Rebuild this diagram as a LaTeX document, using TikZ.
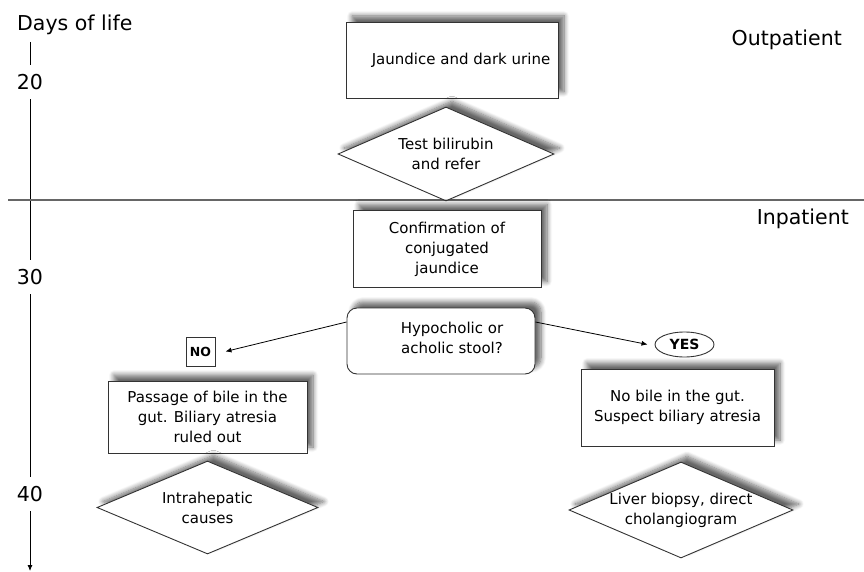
\documentclass[tikz,border=0pt]{standalone}
\usepackage{fontspec}
\setmainfont{DejaVu Sans}
\usetikzlibrary{shapes.geometric,arrows.meta,shadows.blur}
\begin{document}
\begin{tikzpicture}[x=1pt,y=-1pt,
  every node/.style={font=\fontsize{15}{20}\selectfont},
  shad/.style={blur shadow={shadow xshift=6pt,shadow yshift=6pt,shadow blur steps=8,shadow blur radius=5pt,shadow opacity=60}},
  boxn/.style={draw=black!80,fill=white,line width=0.9pt,inner sep=0pt,shad,align=center},
  dia/.style={diamond,draw=black!80,fill=white,line width=0.9pt,inner sep=0pt,shad},
  big/.style={font=\fontsize{20.5}{24}\selectfont},
  tick/.style={big,fill=white,inner xsep=2pt,inner ysep=9pt},
  arr/.style={-{Latex[length=6pt,width=5pt]},line width=0.8pt}
]
\useasboundingbox (0,0) rectangle (864,572);

% axis
\coordinate (axtop) at (30,42);
\coordinate (axbot) at (30,571);
\draw[-{Latex[length=6pt,width=5pt]},line width=0.8pt] (axtop) -- (axbot);
\node[big,anchor=west,inner sep=0pt] (days) at (17,25) {Days of life};
\node[tick] (t20) at (30,82) {20};
\node[tick] (t30) at (30,277) {30};
\node[tick] (t40) at (30,494) {40};

% divider
\coordinate (divl) at (8,200);
\coordinate (divr) at (864,200);
\draw[line width=1.3pt,black!60] (divl) -- (divr);
\node[big,anchor=east,inner sep=0pt] (outp) at (842,40) {Outpatient};
\node[big,anchor=east,inner sep=0pt] (inp) at (849,219) {Inpatient};

% boxes
\node[boxn,minimum width=212pt,minimum height=76pt,
  label={[xshift=9pt]center:Jaundice and dark urine}] (b1) at (452,60) {};
\node[dia,minimum width=216pt,minimum height=94pt,
  label={[align=center]center:Test bilirubin\\and refer}] (d1) at (446,154) {};
\node[boxn,minimum width=188pt,minimum height=77pt] (b2) at (447,249) {Confirmation of\\conjugated\\jaundice};
\node[boxn,rounded corners=10pt,minimum width=188pt,minimum height=66pt,
  label={[align=center,xshift=11pt,yshift=3pt]center:Hypocholic or\\acholic stool?}] (r1) at (441,341) {};
\node[draw=black!80,line width=0.9pt,minimum width=29pt,minimum height=29pt,inner sep=0pt,
  font=\fontsize{12.5}{14}\selectfont\bfseries] (no) at (200.5,351.5) {NO};
\node[ellipse,draw=black!80,line width=0.9pt,minimum width=59pt,minimum height=25pt,inner sep=0pt,
  font=\fontsize{14}{16}\selectfont\bfseries] (yes) at (684.5,344.5) {YES};
\node[boxn,minimum width=199pt,minimum height=72pt] (b3) at (207.5,417) {Passage of bile in the\\gut. Biliary atresia\\ruled out};
\node[dia,minimum width=221pt,minimum height=93pt,
  label={[align=center]center:Intrahepatic\\causes}] (d2) at (207.5,507.5) {};
\node[boxn,minimum width=193pt,minimum height=77pt] (b4) at (677.5,407.5) {No bile in the gut.\\Suspect biliary atresia};
\node[dia,minimum width=224pt,minimum height=96pt,
  label={[align=center]center:Liver biopsy, direct\\cholangiogram}] (d3) at (681,510) {};

% arrows
\draw[arr] ([yshift=19pt]r1.west) -- ([xshift=10pt]no.east);
\draw[arr] ([yshift=19pt]r1.east) -- ([xshift=-7pt]yes.west);
\end{tikzpicture}
\end{document}
